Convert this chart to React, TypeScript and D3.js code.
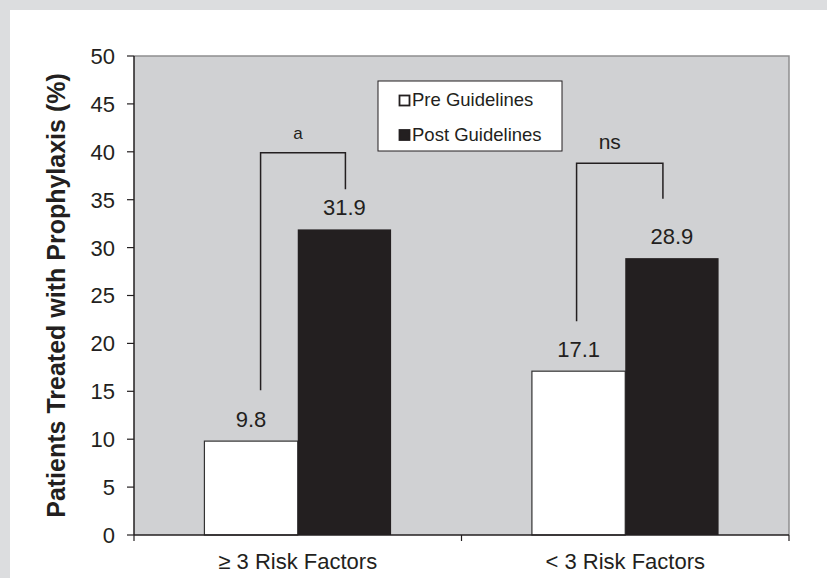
import React, { useEffect, useRef } from 'react';
import * as d3 from 'd3';

const categories = ['≥ 3 Risk Factors', '< 3 Risk Factors'];
const seriesNames = ['Pre Guidelines', 'Post Guidelines'];
const preValues = [9.8, 17.1];
const postValues = [31.9, 28.9];
const yTicks = [0, 5, 10, 15, 20, 25, 30, 35, 40, 45, 50];

// significance brackets: left foot, top, right foot (in % units)
const bracketLabels = ['a', 'ns'];
const bracketLeftFoot = [15.1, 22.3];
const bracketTop = [39.9, 38.8];
const bracketRightFoot = [36.1, 35.1];

const W = 827;
const H = 578;
const FONT = '"Liberation Sans", Arial, Helvetica, sans-serif';
const INK = '#231f20';

const App = () => {
  const ref = useRef<SVGSVGElement>(null);

  useEffect(() => {
    const svg = d3.select(ref.current);
    svg.selectAll('*').remove();

    const left = 134;
    const right = 789;
    const top = 56;
    const bottom = 535;

    // page background + white panel
    svg.append('rect').attr('width', W).attr('height', H).attr('fill', '#dcdddf');
    svg.append('rect').attr('x', 10).attr('y', 10).attr('width', W - 10).attr('height', H - 10).attr('fill', '#ffffff');

    const x0 = d3.scaleBand().domain(categories).range([left, right]).paddingInner(0.43).paddingOuter(0.215);
    const x1 = d3.scaleBand().domain(seriesNames).range([0, x0.bandwidth()]);
    const y = d3.scaleLinear().domain([0, 50]).range([bottom, top]);

    // plot area
    svg.append('rect')
      .attr('x', left).attr('y', top)
      .attr('width', right - left).attr('height', bottom - top)
      .attr('fill', '#d0d1d3');
    svg.append('path')
      .attr('d', `M${left},${top}H${right}V${bottom}`)
      .attr('fill', 'none').attr('stroke', '#8e8e90').attr('stroke-width', 1.5);

    // bars
    const rows = categories.map((c, i) => ({ cat: c, values: [preValues[i], postValues[i]] }));
    const groups = svg.selectAll('g.grp').data(rows).enter().append('g')
      .attr('transform', (d) => `translate(${x0(d.cat)},0)`);

    groups.selectAll('rect').data((d) => d.values.map((v, j) => ({ v, s: seriesNames[j] }))).enter()
      .append('rect')
      .attr('x', (d) => x1(d.s)!)
      .attr('y', (d) => y(d.v))
      .attr('width', x1.bandwidth())
      .attr('height', (d) => y(0) - y(d.v))
      .attr('fill', (d) => (d.s === seriesNames[0] ? '#ffffff' : INK))
      .attr('stroke', (d) => (d.s === seriesNames[0] ? '#333' : 'none'))
      .attr('stroke-width', 1.2);

    groups.selectAll('text.val').data((d) => d.values.map((v, j) => ({ v, s: seriesNames[j] }))).enter()
      .append('text')
      .attr('x', (d) => x1(d.s)! + x1.bandwidth() / 2)
      .attr('y', (d) => y(d.v) - 14)
      .attr('text-anchor', 'middle')
      .attr('font-family', FONT).attr('font-size', 22).attr('fill', INK)
      .text((d) => d.v.toFixed(1));

    // axes
    const yAxis = svg.append('g');
    yAxis.append('line').attr('x1', left).attr('x2', left).attr('y1', top).attr('y2', bottom)
      .attr('stroke', INK).attr('stroke-width', 1.5);
    yTicks.forEach((t) => {
      yAxis.append('line').attr('x1', left - 7).attr('x2', left).attr('y1', y(t)).attr('y2', y(t))
        .attr('stroke', INK).attr('stroke-width', 1.2);
      yAxis.append('text').attr('x', left - 19).attr('y', y(t)).attr('dy', '0.36em')
        .attr('text-anchor', 'end').attr('font-family', FONT).attr('font-size', 22).attr('fill', INK)
        .text(t);
    });

    const xAxis = svg.append('g');
    xAxis.append('line').attr('x1', left).attr('x2', right).attr('y1', bottom).attr('y2', bottom)
      .attr('stroke', INK).attr('stroke-width', 1.5);
    const step = x0.step();
    [0, 1, 2].forEach((k) => {
      const xx = left + k * step;
      xAxis.append('line').attr('x1', xx).attr('x2', xx).attr('y1', bottom).attr('y2', bottom + 6)
        .attr('stroke', INK).attr('stroke-width', 1.2);
    });
    categories.forEach((c) => {
      xAxis.append('text').attr('x', x0(c)! + x0.bandwidth() / 2).attr('y', 569)
        .attr('text-anchor', 'middle').attr('font-family', FONT).attr('font-size', 22).attr('fill', INK)
        .text(c);
    });

    // y title
    svg.append('text')
      .attr('transform', `translate(65,${(top + bottom) / 2}) rotate(-90)`)
      .attr('text-anchor', 'middle').attr('font-family', FONT).attr('font-size', 25)
      .attr('font-weight', 'bold').attr('fill', INK)
      .text('Patients Treated with Prophylaxis (%)');

    // significance brackets
    const shiftL = [9.5, -2];
    const shiftR = [1, -9];
    const labelShift = [-5, -10];
    categories.forEach((c, i) => {
      const xl = x0(c)! + x1(seriesNames[0])! + x1.bandwidth() / 2 + shiftL[i];
      const xr = x0(c)! + x1(seriesNames[1])! + x1.bandwidth() / 2 + shiftR[i];
      svg.append('path')
        .attr('d', `M${xl},${y(bracketLeftFoot[i])}V${y(bracketTop[i])}H${xr}V${y(bracketRightFoot[i])}`)
        .attr('fill', 'none').attr('stroke', INK).attr('stroke-width', 1.5);
      svg.append('text')
        .attr('x', (xl + xr) / 2 + labelShift[i]).attr('y', y(bracketTop[i]) - 14)
        .attr('text-anchor', 'middle').attr('font-family', FONT)
        .attr('font-size', i === 0 ? 17 : 21).attr('fill', INK)
        .text(bracketLabels[i]);
    });

    // legend
    const lg = svg.append('g');
    lg.append('rect').attr('x', 378).attr('y', 81).attr('width', 184).attr('height', 70)
      .attr('fill', '#ffffff').attr('stroke', INK).attr('stroke-width', 1);
    seriesNames.forEach((s, j) => {
      const by = 106 + j * 34.5;
      lg.append('rect').attr('x', 399.5).attr('y', by - 10.5).attr('width', 10).attr('height', 10)
        .attr('fill', j === 0 ? '#ffffff' : INK).attr('stroke', INK).attr('stroke-width', 1.8);
      lg.append('text').attr('x', 412).attr('y', by)
        .attr('font-family', FONT).attr('font-size', 18.5).attr('fill', INK)
        .text(s);
    });
  }, []);

  return (
    <div style={{ position: 'absolute', left: 0, top: 0 }}>
      <svg ref={ref} width={W} height={H} style={{ display: 'block' }} />
    </div>
  );
};

export default App;
